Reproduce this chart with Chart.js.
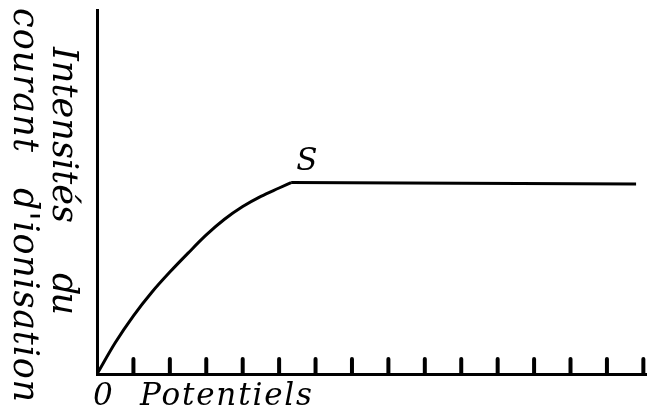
<!DOCTYPE html>
<html>
<head>
<meta charset="utf-8">
<script src="https://cdn.jsdelivr.net/npm/chart.js@4/dist/chart.umd.min.js"></script>
<style>
  body { margin: 0; background: #fff; }
  .box { width: 647px; height: 417px; }
</style>
</head>
<body>
<div class="box"><canvas id="courbe"></canvas></div>
<script>
// courbe de saturation : montée puis palier S
const potentiel = [0, 0.5, 1.0, 1.5, 2.0, 2.5, 3.0, 3.5, 4.0, 4.5, 5.0, 5.33];
const intensite = [0, 0.86, 1.60, 2.24, 2.80, 3.32, 3.82, 4.25, 4.60, 4.88, 5.11, 5.26];
const palierX = [5.33, 10, 14.8];
const palierY = [5.26, 5.24, 5.22];
const graduations = [1, 2, 3, 4, 5, 6, 7, 8, 9, 10, 11, 12, 13, 14, 15];

const police = "italic 31px 'DejaVu Serif'";
const policeOrd = "italic 35px 'DejaVu Serif'";

// texte espacé pour occuper une longueur donnée
function texteEspace(ctx, txt, x, y, largeur) {
    if (!('letterSpacing' in ctx)) {
        const w = ctx.measureText(txt).width;
        ctx.save();
        ctx.translate(x, y);
        ctx.scale(largeur / w, 1);
        ctx.fillText(txt, 0, 0);
        ctx.restore();
        return;
    }
    ctx.letterSpacing = '0px';
    const w = ctx.measureText(txt).width;
    const esp = (largeur - w) / Math.max(txt.length - 1, 1);
    ctx.letterSpacing = esp + 'px';
    ctx.fillText(txt, x, y);
    ctx.letterSpacing = '0px';
}

const habillage = {
    id: 'habillage',
    afterDraw(chart) {
        const ctx = chart.ctx, xs = chart.scales.x, ys = chart.scales.y;
        const bas = ys.getPixelForValue(0);

        // petites graduations vers le haut
        ctx.save();
        ctx.strokeStyle = '#000';
        ctx.lineWidth = 4;
        ctx.lineCap = 'round';
        graduations.forEach(v => {
            const px = xs.getPixelForValue(v);
            ctx.beginPath();
            ctx.moveTo(px, bas);
            ctx.lineTo(px, bas - 15);
            ctx.stroke();
        });
        ctx.restore();

        ctx.save();
        ctx.fillStyle = '#000';
        ctx.textBaseline = 'middle';
        ctx.textAlign = 'left';

        // point S
        const kx = xs.getPixelForValue(palierX[0]), ky = ys.getPixelForValue(palierY[0]);
        ctx.font = "italic 31px 'DejaVu Serif'";
        ctx.fillText('S', kx + 5, ky - 21);

        // axe des abscisses
        ctx.font = police;
        ctx.fillText('0', xs.getPixelForValue(0) - 4, 397);
        texteEspace(ctx, 'Potentiels', 140, 397, 172);

        // axe des ordonnées, écrit de haut en bas
        ctx.font = policeOrd;
        ctx.rotate(Math.PI / 2);
        texteEspace(ctx, 'courant', 8, -23, 144);
        texteEspace(ctx, "d'ionisation", 188, -23, 214);
        texteEspace(ctx, 'Intensités', 47, -62, 176);
        texteEspace(ctx, 'du', 273, -62, 42);
        ctx.restore();
    }
};

new Chart(document.getElementById('courbe'), {
    type: 'scatter',
    data: {
        datasets: [
            {
                data: potentiel.map((x, i) => ({x: x, y: intensite[i]})),
                showLine: true,
                borderColor: '#000',
                borderWidth: 3,
                pointRadius: 0,
                cubicInterpolationMode: 'monotone'
            },
            {
                data: palierX.map((x, i) => ({x: x, y: palierY[i]})),
                showLine: true,
                borderColor: '#000',
                borderWidth: 3,
                pointRadius: 0,
                tension: 0
            }
        ]
    },
    options: {
        responsive: true,
        maintainAspectRatio: false,
        animation: false,
        layout: { padding: { left: 97, top: 10, right: 0, bottom: 43 } },
        plugins: { legend: { display: false }, tooltip: { enabled: false } },
        scales: {
            x: {
                type: 'linear', min: 0, max: 15.1,
                grid: { color: 'transparent', drawTicks: false },
                border: { color: '#000', width: 3 },
                ticks: { display: false }
            },
            y: {
                min: 0, max: 10,
                grid: { color: 'transparent', drawTicks: false },
                border: { color: '#000', width: 3 },
                ticks: { display: false }
            }
        }
    },
    plugins: [habillage]
});
</script>
</body>
</html>
